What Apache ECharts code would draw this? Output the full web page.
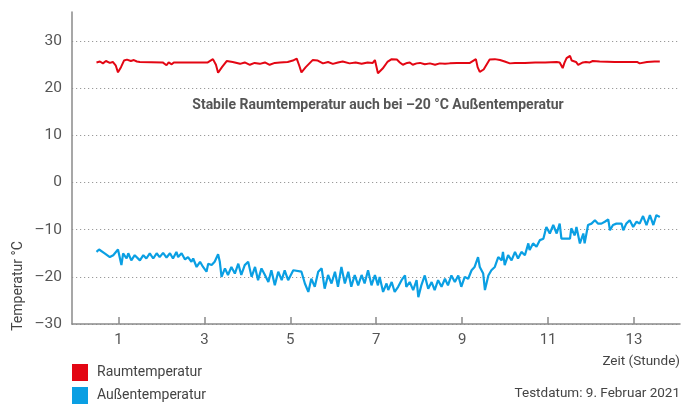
<!DOCTYPE html>
<html>
<head>
<meta charset="utf-8">
<script src="https://cdn.jsdelivr.net/npm/echarts@6/dist/echarts.min.js"></script>
<style>
html,body{margin:0;padding:0;background:#fff;}
#chart{width:694px;height:405px;}
</style>
</head>
<body>
<div id="chart"></div>
<script>
const xTickValues = [1, 3, 5, 7, 9, 11, 13];
const yTickValues = [-30, -20, -10, 0, 10, 20, 30];

const raumHours = [0.49,0.57,0.64,0.71,0.80,0.87,0.94,0.99,1.06,1.13,1.20,1.29,1.36,1.43,1.50,2.03,2.12,2.17,2.24,2.29,3.08,3.20,3.27,3.32,3.41,3.52,3.66,3.83,3.94,4.06,4.17,4.29,4.41,4.52,4.64,4.76,4.94,5.06,5.15,5.21,5.26,5.36,5.52,5.64,5.76,5.88,5.99,6.11,6.22,6.38,6.52,6.66,6.80,6.92,6.97,7.04,7.15,7.26,7.36,7.48,7.55,7.62,7.72,7.78,7.85,7.94,8.02,8.13,8.25,8.37,8.48,8.60,8.71,8.88,9.18,9.32,9.36,9.41,9.50,9.64,9.76,9.88,9.99,10.11,10.23,10.46,10.70,10.93,11.20,11.27,11.34,11.38,11.43,11.51,11.55,11.65,11.70,11.81,11.88,11.92,11.97,12.04,12.20,12.55,12.90,13.07,13.13,13.30,13.48,13.60];
const raumTemps = [25.5,25.7,25.3,25.8,25.4,25.6,24.8,23.4,24.5,25.9,26.1,25.8,26.0,25.7,25.6,25.5,24.9,25.5,25.1,25.5,25.5,26.2,25.0,23.3,24.5,25.8,25.6,25.2,25.5,25.0,25.4,25.2,25.5,25.0,25.4,25.5,25.6,25.9,26.3,24.8,23.4,24.5,26.0,25.9,25.3,25.6,25.2,25.5,25.7,25.3,25.5,25.2,25.5,25.4,26.0,23.2,24.2,25.6,26.2,26.1,25.5,25.0,25.4,25.5,25.0,25.3,25.4,25.1,25.3,25.0,25.3,25.2,25.3,25.4,25.4,26.2,24.5,23.5,24.0,26.1,26.2,26.0,25.7,25.3,25.4,25.4,25.5,25.5,25.6,25.5,24.3,25.4,26.4,26.9,25.9,25.6,25.0,25.5,25.6,26.0,25.5,25.8,25.7,25.6,25.6,25.6,25.3,25.6,25.7,25.7];

const aussenHours = [0.49,0.55,0.68,0.80,0.88,0.99,1.07,1.11,1.19,1.23,1.30,1.38,1.50,1.58,1.65,1.73,1.81,1.89,1.96,2.04,2.12,2.20,2.27,2.35,2.39,2.47,2.55,2.62,2.70,2.74,2.82,2.90,2.97,3.05,3.09,3.17,3.24,3.32,3.36,3.40,3.48,3.55,3.63,3.71,3.79,3.86,3.94,4.02,4.10,4.18,4.25,4.33,4.41,4.49,4.56,4.64,4.72,4.80,4.87,4.95,5.07,5.26,5.34,5.42,5.49,5.57,5.65,5.73,5.80,5.88,5.96,6.04,6.11,6.19,6.27,6.35,6.42,6.50,6.58,6.66,6.73,6.81,6.89,6.97,7.04,7.08,7.16,7.24,7.28,7.36,7.43,7.51,7.59,7.67,7.70,7.78,7.86,7.94,7.98,8.05,8.13,8.21,8.29,8.36,8.44,8.52,8.60,8.67,8.75,8.83,8.91,8.98,9.06,9.14,9.22,9.29,9.37,9.41,9.49,9.53,9.61,9.68,9.76,9.84,9.92,9.95,9.99,10.07,10.15,10.23,10.30,10.38,10.46,10.54,10.57,10.65,10.73,10.81,10.89,10.96,11.04,11.12,11.20,11.27,11.31,11.51,11.54,11.62,11.66,11.74,11.82,11.85,11.93,12.01,12.09,12.16,12.24,12.32,12.40,12.44,12.51,12.59,12.71,12.75,12.82,12.90,12.98,13.06,13.13,13.21,13.29,13.37,13.45,13.52,13.60];
const aussenTemps = [-14.7,-14.2,-15.0,-15.8,-15.4,-14.2,-17.5,-15.0,-16.1,-15.0,-16.5,-15.4,-16.5,-15.4,-16.1,-15.0,-16.1,-15.0,-15.8,-14.9,-15.9,-15.0,-16.1,-14.7,-15.8,-15.0,-16.3,-15.8,-16.8,-16.1,-17.9,-16.8,-17.9,-18.9,-17.2,-17.5,-16.8,-15.2,-16.8,-20.0,-18.2,-19.6,-17.9,-19.3,-17.2,-19.6,-17.5,-16.8,-20.0,-17.9,-20.7,-18.2,-19.6,-21.1,-18.6,-21.8,-18.9,-20.7,-18.6,-20.7,-18.6,-18.9,-21.4,-23.2,-20.4,-22.1,-18.9,-18.2,-22.5,-19.6,-21.4,-18.9,-22.1,-17.9,-21.4,-18.9,-22.1,-19.6,-21.8,-19.6,-21.4,-18.6,-21.8,-19.6,-21.8,-20.0,-23.2,-21.4,-22.8,-21.1,-23.2,-22.1,-20.7,-19.7,-22.1,-21.1,-22.8,-20.7,-24.3,-21.8,-19.7,-22.5,-21.1,-22.8,-20.7,-22.1,-20.4,-21.8,-19.7,-21.1,-19.7,-22.1,-20.0,-20.4,-18.6,-17.9,-15.8,-17.9,-19.3,-22.8,-19.7,-18.6,-17.9,-15.8,-16.5,-14.7,-17.5,-15.4,-16.5,-14.7,-16.1,-14.7,-15.4,-12.9,-14.3,-12.9,-13.6,-12.2,-11.9,-9.4,-10.8,-9.0,-10.8,-8.7,-11.9,-11.9,-9.7,-11.2,-9.4,-12.9,-10.8,-12.9,-9.0,-8.7,-8.0,-8.7,-8.7,-8.3,-7.8,-10.1,-9.0,-8.7,-8.7,-10.1,-8.7,-8.0,-9.4,-8.3,-8.7,-7.1,-9.0,-6.9,-9.0,-6.9,-7.3];

const seriesNames = ['Raumtemperatur', 'Außentemperatur'];
const annotation = 'Stabile Raumtemperatur auch bei –20 °C Außentemperatur';
const yAxisTitle = 'Temperatur °C';
const xAxisTitle = 'Zeit (Stunde)';
const dateNote = 'Testdatum: 9. Februar 2021';

const FONT = '"Roboto", "Liberation Sans", sans-serif';
const zip = (xs, ys) => xs.map((x, i) => [x, ys[i]]);

const chart = echarts.init(document.getElementById('chart'), null, {renderer: 'canvas'});
chart.setOption({
  animation: false,
  backgroundColor: '#fff',
  grid: {left: 72, right: 14, top: 12, bottom: 81, containLabel: false},
  xAxis: {
    type: 'value', min: -0.08, max: 14.07,
    axisLine: {onZero: false, lineStyle: {color: '#8a8a8a', width: 1.5}},
    axisTick: {show: true, inside: true, length: 7, customValues: xTickValues, lineStyle: {color: '#8a8a8a', width: 1.5}},
    axisLabel: {customValues: xTickValues, color: '#555', fontSize: 15, fontFamily: FONT, margin: 9},
    splitLine: {show: false}
  },
  yAxis: {
    type: 'value', min: -30, max: 36.2,
    axisLine: {show: true, onZero: false, lineStyle: {color: '#8a8a8a', width: 1.5}},
    axisTick: {show: true, length: 0, customValues: yTickValues, lineStyle: {width: 0}},
    axisLabel: {customValues: yTickValues, color: '#555', fontSize: 15.5, fontFamily: FONT, margin: 10,
      formatter: v => String(v).replace('-', '–')},
    splitLine: {show: true, lineStyle: {color: '#9a9a9a', width: 1.2, type: [1.2, 2.8]}}
  },
  legend: {
    orient: 'vertical', left: 72, top: 364, height: 45, padding: 0, itemGap: 6, itemWidth: 16, itemHeight: 17,
    icon: 'rect',
    textStyle: {color: '#444', fontSize: 14, fontFamily: FONT, padding: [0, 0, 0, 4]},
    data: seriesNames
  },
  series: [
    {name: seriesNames[0], type: 'line', data: zip(raumHours, raumTemps), showSymbol: false,
     itemStyle: {color: '#e30613'}, lineStyle: {color: '#e30613', width: 2}},
    {name: seriesNames[1], type: 'line', data: zip(aussenHours, aussenTemps), showSymbol: false,
     itemStyle: {color: '#0a9fe3'}, lineStyle: {color: '#0a9fe3', width: 2.2}}
  ],
  graphic: [
    {type: 'text', style: {text: annotation, x: 378, y: 105, align: 'center', verticalAlign: 'middle',
      fill: '#555', font: 'bold 14px ' + FONT}},
    {type: 'text', rotation: Math.PI / 2, x: 18, y: 286, style: {text: yAxisTitle, align: 'center', verticalAlign: 'middle',
      fill: '#444', font: '14px ' + FONT}},
    {type: 'text', style: {text: xAxisTitle, x: 680, y: 362, align: 'right', verticalAlign: 'middle',
      fill: '#444', font: '13.5px ' + FONT}},
    {type: 'text', style: {text: dateNote, x: 680, y: 394, align: 'right', verticalAlign: 'middle',
      fill: '#444', font: '13.5px ' + FONT}}
  ]
});
</script>
</body>
</html>
